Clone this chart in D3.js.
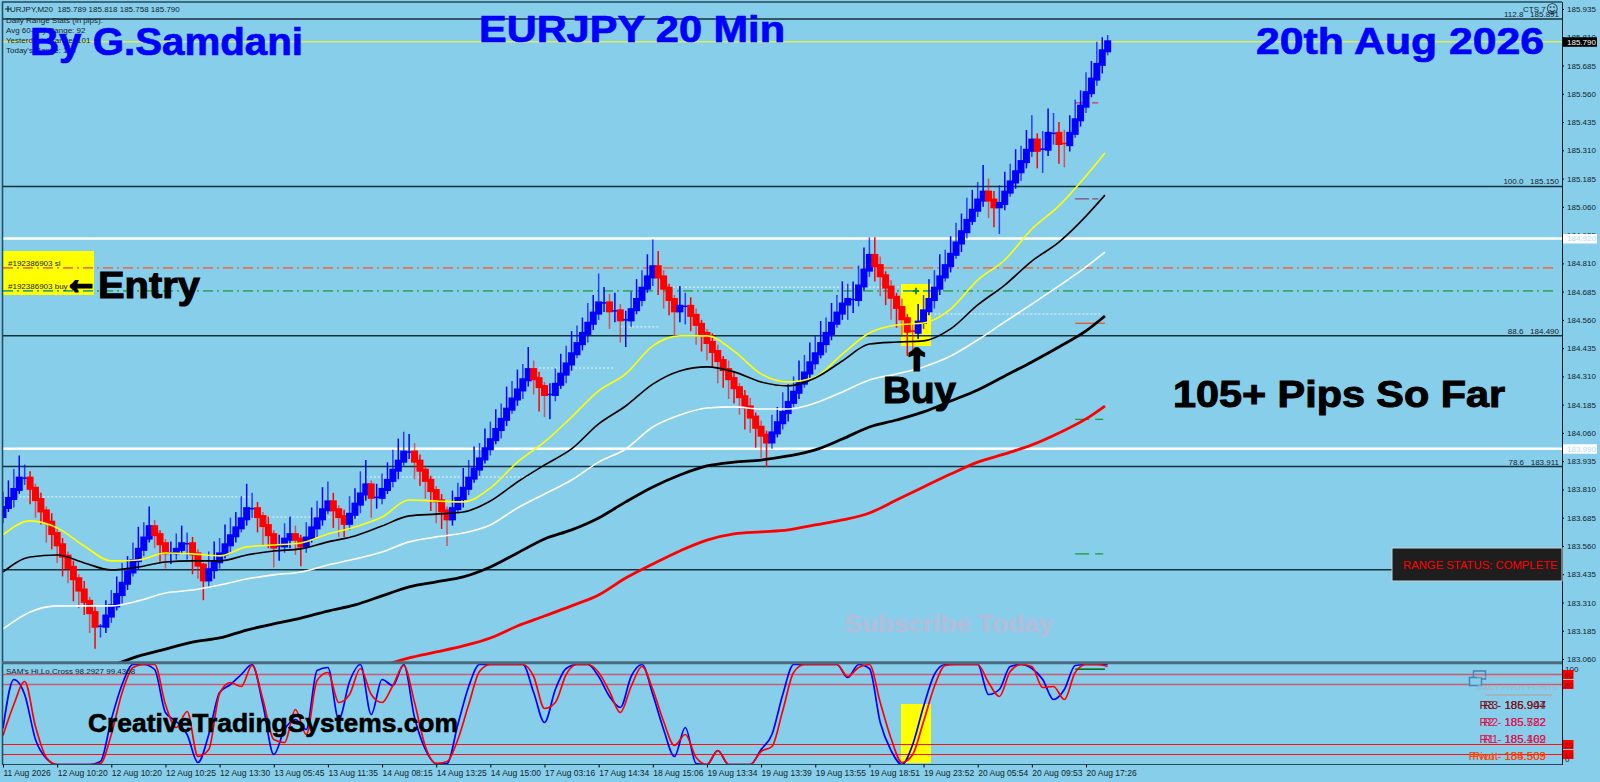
<!DOCTYPE html>
<html>
<head>
<meta charset="utf-8">
<title>EURJPY 20 Min</title>
<script src="https://cdn.jsdelivr.net/npm/d3@7"></script>
<style>
  html, body { margin: 0; padding: 0; background: #87ceeb; overflow: hidden; }
  svg { display: block; font-family: "Liberation Sans", Arial, sans-serif; }
  .small { font-size: 8px; fill: #14242c; }
  .big { font-weight: bold; }
</style>
</head>
<body>
<div id="chart-container"></div>
<script>
// closes, one per bar
const closes = [
  183.730,183.770,183.810,183.860,183.860,183.815,183.765,183.715,183.665,183.615,
  183.565,183.515,183.465,183.415,183.365,183.315,183.265,183.205,183.205,183.250,
  183.295,183.345,183.395,183.445,183.495,183.545,183.595,183.645,183.610,183.570,
  183.530,183.530,183.545,183.570,183.570,183.525,183.475,183.410,183.455,183.490,
  183.525,183.565,183.605,183.640,183.680,183.725,183.725,183.690,183.650,183.610,
  183.555,183.560,183.590,183.610,183.590,183.560,183.595,183.640,183.680,183.720,
  183.755,183.720,183.690,183.660,183.700,183.745,183.790,183.830,183.775,183.775,
  183.810,183.850,183.895,183.935,183.975,183.975,183.935,183.895,183.850,183.805,
  183.760,183.715,183.680,183.725,183.770,183.815,183.860,183.900,183.945,183.990,
  184.030,184.075,184.120,184.165,184.210,184.250,184.295,184.340,184.300,184.265,
  184.230,184.230,184.275,184.320,184.365,184.410,184.455,184.500,184.545,184.590,
  184.635,184.635,184.600,184.600,184.560,184.560,184.605,184.650,184.700,184.750,
  184.795,184.750,184.700,184.650,184.600,184.620,184.620,184.580,184.540,184.500,
  184.460,184.420,184.380,184.340,184.300,184.260,184.220,184.175,184.130,184.085,
  184.050,184.020,184.060,184.105,184.150,184.195,184.240,184.280,184.325,184.370,
  184.410,184.455,184.500,184.545,184.590,184.630,184.650,184.650,184.710,184.780,
  184.845,184.800,184.755,184.705,184.660,184.615,184.565,184.510,184.505,184.550,
  184.600,184.650,184.700,184.750,184.800,184.850,184.900,184.950,185.000,185.045,
  185.090,185.125,185.090,185.060,185.075,185.125,185.170,185.215,185.260,185.310,
  185.355,185.310,185.315,185.385,185.385,185.340,185.335,185.385,185.445,185.505,
  185.565,185.625,185.690,185.750,185.790
];

// wick lengths above / below the body, in 0.01 of price
const wickUp = [
  7,8,9,10,6,3,2,3,2,4, 2,3,2,3,2,4,2,3,1,7, 7,8,9,7,8,10,7,9,3,2,
  2,5,7,8,5,3,2,1,8,9, 7,9,8,7,10,11,7,3,2,4, 2,5,7,8,4,2,7,9,8,10,
  9,4,2,3,8,7,10,11,2,6, 7,8,9,10,9,8,4,3,2,2, 2,3,2,8,7,9,8,10,7,9,
  8,9,7,10,8,9,7,10,4,3, 2,5,7,9,8,10,8,7,9,8, 13,7,4,8,3,4,8,9,8,10,
  12,7,3,2,2,9,6,4,3,2, 2,4,3,2,4,3,2,3,4,2, 3,2,8,7,9,8,7,10,8,9,
  8,10,7,9,8,10,7,8,9,10, 8,8,4,2,3,2,4,2,3,8, 7,9,8,10,7,8,9,8,10,9,
  8,12,6,4,8,9,8,10,7,9, 11,3,8,11,9,5,6,8,9,7, 9,8,10,6,3
];
const wickDown = [
  3,2,4,2,3,7,8,6,9,7, 8,9,7,10,8,6,9,10,5,3, 3,2,4,3,2,4,3,2,6,8,
  7,5,3,2,7,9,6,9,3,4, 3,2,4,3,2,3,4,7,9,6, 9,6,3,4,7,9,3,2,4,3,
  2,8,9,6,3,2,4,3,9,5, 3,2,3,4,2,3,8,7,8,9, 10,8,12,3,2,4,3,2,3,2,
  3,2,4,3,2,3,4,3,7,11, 10,11,3,2,4,3,2,3,4,3, 3,4,8,5,10,12,3,2,3,2,
  4,8,9,7,11,5,8,7,9,8, 8,7,10,8,9,7,8,10,7,9, 10,11,3,2,3,4,2,3,2,3,
  3,2,4,3,2,3,7,6,3,2, 3,7,9,8,10,9,8,11,10,3, 3,2,4,3,2,3,2,4,3,2,
  3,3,8,9,12,3,2,3,4,3, 3,8,10,3,5,9,10,3,2,3, 3,2,3,4,2
];

// moving averages, sampled every 5 bars and at the last bar
const maBars = [0,5,10,15,20,25,30,35,40,45,50,55,60,65,70,75,80,85,90,95,100,105,110,115,120,125,130,135,140,145,150,155,160,165,170,175,180,185,190,195,200,203.5];
const maYellow = [183.609,183.671,183.640,183.560,183.494,183.498,183.529,183.525,183.516,183.556,183.564,183.573,183.613,183.644,183.688,183.763,183.759,183.755,183.816,183.931,184.020,184.130,184.246,184.321,184.445,184.489,184.489,184.422,184.321,184.285,184.307,184.409,184.502,184.537,184.546,184.608,184.736,184.825,184.962,185.064,185.196,185.298];
const maBlackThin = [183.445,183.511,183.520,183.485,183.454,183.467,183.489,183.494,183.494,183.520,183.538,183.547,183.578,183.604,183.648,183.693,183.701,183.710,183.759,183.843,183.918,183.989,184.100,184.179,184.276,184.334,184.352,184.330,184.285,184.268,184.303,184.378,184.453,184.462,184.467,184.520,184.626,184.714,184.820,184.904,185.019,185.112];
const maWhite = [183.193,183.268,183.295,183.295,183.295,183.317,183.352,183.365,183.387,183.414,183.432,183.445,183.476,183.502,183.533,183.578,183.600,183.617,183.653,183.728,183.790,183.852,183.931,183.989,184.086,184.139,184.170,184.175,184.166,184.166,184.192,184.241,184.294,184.321,184.352,184.400,184.471,184.551,184.630,184.710,184.794,184.860];
const maBlackThick = [null,null,null,null,183.029,183.073,183.104,183.135,183.153,183.188,183.215,183.241,183.272,183.299,183.339,183.379,183.401,183.423,183.467,183.529,183.591,183.631,183.684,183.755,183.821,183.874,183.914,183.931,183.940,183.958,183.985,184.033,184.086,184.117,184.153,184.201,184.250,184.312,184.374,184.440,184.511,184.577];
const maRed = [null,null,null,null,null,null,null,null,null,null,null,null,null,null,183.029,183.065,183.091,183.118,183.153,183.206,183.250,183.295,183.343,183.418,183.480,183.538,183.586,183.613,183.622,183.631,183.653,183.675,183.706,183.763,183.821,183.878,183.931,183.967,184.007,184.060,184.122,184.179];

// stochastic cross indicator, sampled every 2 bars
const stochBlue = [
  36,85,70,25,6,0,0,0,0,3, 45,80,100,100,95,52,43,30,2,30,
  72,80,90,100,60,10,35,45,35,94, 97,45,83,100,50,85,79,100,47,15,
  1,1,40,78,100,100, 100,100,100,72,42,75,96,100,100,88,
  68,57,88,100,70,35,8,37,1,0, 14,0,0,0,15,30,70,100,100,100,
  100,100,87,100,96,42,14,0,20,58, 90,100,100,100,100,70,75,98,100,96,
  85,65,75,99,100,100,100
];
const stochRed = [
  29,60,83,38,7,0,0,0,0,1, 30,72,97,100,100,60,37,53,8,15,
  71,82,78,99,65,25,22,55,30,84, 92,62,70,96,70,62,79,99,62,18,
  1,3,25,60,93,100, 100,100,100,88,56,62,90,100,100,92,
  73,52,78,98,75,43,19,30,7,0, 14,0,0,0,13,18,54,92,100,100,
  100,100,88,97,100,62,26,2,10,43, 78,99,100,100,100,82,68,93,100,98,
  77,78,65,92,100,100,98
];

const priceTicks = [185.935,185.81,185.685,185.56,185.435,185.31,185.185,185.06,184.935,184.81,184.685,184.56,184.435,184.31,184.185,184.06,183.935,183.81,183.685,183.56,183.435,183.31,183.185,183.06];
const timeLabels = ["11 Aug 2026","12 Aug 10:20","12 Aug 10:20","12 Aug 10:25","12 Aug 13:30","13 Aug 05:45","13 Aug 11:35","14 Aug 08:15","14 Aug 13:25","14 Aug 15:00","17 Aug 03:16","17 Aug 14:34","18 Aug 15:06","19 Aug 13:34","19 Aug 13:39","19 Aug 13:55","19 Aug 18:51","19 Aug 23:52","20 Aug 05:54","20 Aug 09:53","20 Aug 17:26"];

// fib levels and their labels
const fibPrices = [185.891,185.150,184.490,183.911,183.455];
const fibLabels = ["112.8   185.891","100.0   185.150","88.6   184.490","78.6   183.911",""];
const whitePrices = [184.920,183.990];
const stopPrice = 184.790;
const entryPrice = 184.688;
const lastPrice = 185.790;

// dotted white levels: first bar, last bar, price
const dotStart = [3,49,67,99,114,123,172];
const dotEnd = [46,66,97,113,121,166,203];
const dotPrice = [183.777,183.688,183.865,184.347,184.529,184.705,184.586];

// short pivot dashes at the last day
const pivotPrices = [185.520,185.095,184.545,184.120,183.525,183.015];
const pivotColors = ["#c8385a","#80506a","#e8501e","#1f9a2e","#1f9a2e","#0e6e1e"];
const pivotDash = ["14,3,6","14,3,6",null,"14,6,8","14,6,8",null];

const stochLevels = [90,80,20,10];
const pivotRows = [["R3  186.904","R3 - 185.947","#7c1018"],["R2  185.722","R2 - 185.582","#dc1450"],["R1  185.402","R1 - 185.169","#dc1450"],["Pivot  185.509","Pivot - 184.503","#ff4500"]];

const width = 1600;
const height = 782;

const svg = d3.select("#chart-container")
  .append("svg")
  .attr("width", width)
  .attr("height", height);

svg.append("rect").attr("width", width).attr("height", height).attr("fill", "#87ceeb");

const x = d3.scaleLinear().domain([0, 10]).range([3, 57.15]);
const y = d3.scaleLinear().domain([185.935, 183.06]).range([9, 659]);
const yStoch = d3.scaleLinear().domain([0, 100]).range([764.5, 664.5]);

const defs = svg.append("defs");
defs.append("clipPath").attr("id", "price-clip").append("rect")
  .attr("x", 3).attr("y", 3).attr("width", 1559).attr("height", 659);
defs.append("clipPath").attr("id", "stoch-clip").append("rect")
  .attr("x", 3).attr("y", 663).attr("width", 1559).attr("height", 102);

const chartRight = 1562;
const chartLeft = 3;

// yellow boxes behind everything
const notes = svg.append("g");
notes.append("rect").attr("x", 3).attr("y", 251).attr("width", 91).attr("height", 44).attr("fill", "#ffff00");
notes.append("rect").attr("x", 901).attr("y", 284).attr("width", 30).attr("height", 62).attr("fill", "#ffff00");
notes.append("rect").attr("x", 901).attr("y", 704).attr("width", 30).attr("height", 59).attr("fill", "#ffff00");

// horizontal levels
const levels = svg.append("g");

levels.selectAll(".fib").data(fibPrices).join("line")
  .attr("x1", chartLeft).attr("x2", chartRight)
  .attr("y1", d => y(d)).attr("y2", d => y(d))
  .attr("stroke", "#16303c").attr("stroke-width", 1.5);

levels.selectAll(".white").data(whitePrices).join("line")
  .attr("x1", chartLeft).attr("x2", chartRight)
  .attr("y1", d => y(d)).attr("y2", d => y(d))
  .attr("stroke", "#ffffff").attr("stroke-width", 2.6);

levels.append("line").attr("x1", chartLeft).attr("x2", chartRight)
  .attr("y1", y(lastPrice)).attr("y2", y(lastPrice))
  .attr("stroke", "#dcec5a").attr("stroke-width", 1.4);

levels.append("line").attr("x1", chartLeft).attr("x2", 1557)
  .attr("y1", y(stopPrice)).attr("y2", y(stopPrice))
  .attr("stroke", "#e8744e").attr("stroke-width", 1.7).attr("stroke-dasharray", "10,4,2,4");
levels.append("line").attr("x1", chartLeft).attr("x2", 1557)
  .attr("y1", y(entryPrice)).attr("y2", y(entryPrice))
  .attr("stroke", "#3aa86a").attr("stroke-width", 1.7).attr("stroke-dasharray", "10,4,2,4");

levels.selectAll(".dot").data(dotPrice).join("line")
  .attr("x1", (d, i) => x(dotStart[i])).attr("x2", (d, i) => x(dotEnd[i]))
  .attr("y1", d => y(d)).attr("y2", d => y(d))
  .attr("stroke", "#eef8ff").attr("stroke-width", 1).attr("stroke-dasharray", "2,2");

levels.selectAll(".pivot").data(pivotPrices).join("line")
  .attr("x1", x(198)).attr("x2", 1105)
  .attr("y1", d => y(d)).attr("y2", d => y(d))
  .attr("stroke", (d, i) => pivotColors[i])
  .attr("stroke-width", (d, i) => i === 5 ? 1.6 : 1.2)
  .attr("stroke-dasharray", (d, i) => pivotDash[i]);

// candles: wicks first so the bodies stay solid
const candles = svg.append("g").attr("clip-path", "url(#price-clip)");

closes.forEach((c, i) => {
  const open = i === 0 ? c - 0.04 : closes[i - 1];
  const up = c >= open;
  candles.append("line")
    .attr("x1", x(i)).attr("x2", x(i))
    .attr("y1", y(Math.max(open, c) + wickUp[i] / 100))
    .attr("y2", y(Math.min(open, c) - wickDown[i] / 100))
    .attr("stroke", up ? "#0000ff" : "#ff0000")
    .attr("stroke-width", 1.5)
    .attr("opacity", i % 2 ? 1 : (up ? 0.7 : 0.6));
});

closes.forEach((c, i) => {
  const open = i === 0 ? c - 0.04 : closes[i - 1];
  const up = c >= open;
  const top = y(Math.max(open, c));
  const bottom = y(Math.min(open, c));
  const flat = bottom - top < 1.5;
  candles.append("rect")
    .attr("x", x(i) - (flat ? 2.5 : 3.5))
    .attr("width", flat ? 5 : 7)
    .attr("y", flat ? top - 0.75 : top - 1.5)
    .attr("height", flat ? 1.5 : bottom - top + 3)
    .attr("fill", up ? "#0000ff" : "#ff0000");
});

// moving averages
const maLine = d3.line()
  .defined(d => d !== null)
  .x((d, i) => x(maBars[i]))
  .y(d => y(d))
  .curve(d3.curveMonotoneX);

const maGroup = svg.append("g").attr("clip-path", "url(#price-clip)").attr("fill", "none");
maGroup.append("path").attr("d", maLine(maWhite)).attr("stroke", "#ffffff").attr("stroke-width", 1.6);
maGroup.append("path").attr("d", maLine(maYellow)).attr("stroke", "#ffff00").attr("stroke-width", 1.6);
maGroup.append("path").attr("d", maLine(maBlackThin)).attr("stroke", "#000000").attr("stroke-width", 1.6);
maGroup.append("path").attr("d", maLine(maBlackThick)).attr("stroke", "#000000").attr("stroke-width", 2.8);
maGroup.append("path").attr("d", maLine(maRed)).attr("stroke", "#ff0000").attr("stroke-width", 2.8);

// stochastic pane
const stochGroup = svg.append("g").attr("clip-path", "url(#stoch-clip)");

stochGroup.selectAll(".level").data(stochLevels).join("line")
  .attr("x1", chartLeft).attr("x2", chartRight)
  .attr("y1", d => yStoch(d)).attr("y2", d => yStoch(d))
  .attr("stroke", d => d > 50 ? "#d05a70" : "#ff1010")
  .attr("stroke-width", d => d > 50 ? 1.6 : 1.2);

const stochLine = d3.line()
  .x((d, i) => x(i * 2))
  .y(d => yStoch(d))
  .curve(d3.curveMonotoneX);

stochGroup.append("path").attr("d", stochLine(stochBlue)).attr("fill", "none").attr("stroke", "#0000ff").attr("stroke-width", 1.7);
stochGroup.append("path").attr("d", stochLine(stochRed)).attr("fill", "none").attr("stroke", "#ff0000").attr("stroke-width", 1.7);

// frame
const frame = svg.append("g").attr("stroke", "#234a5c").attr("fill", "none");
frame.append("line").attr("x1", 2.5).attr("x2", 2.5).attr("y1", 2).attr("y2", 765).attr("stroke-width", 1.5);
frame.append("line").attr("x1", 2).attr("x2", chartRight).attr("y1", 2).attr("y2", 2).attr("stroke-width", 1.5);
frame.append("line").attr("x1", 2).attr("x2", chartRight).attr("y1", 662.8).attr("y2", 662.8).attr("stroke", "#4a6a7e").attr("stroke-width", 3);
frame.append("line").attr("x1", 2).attr("x2", chartRight).attr("y1", 764.5).attr("y2", 764.5).attr("stroke-width", 1.2);

// right price axis
const priceAxis = svg.append("g")
  .attr("transform", `translate(${chartRight},0)`)
  .call(d3.axisRight(y).tickValues(priceTicks).tickFormat(d3.format(".3f")).tickSize(2).tickPadding(3));
priceAxis.select(".domain").attr("stroke", "#0c1c24").attr("d", "M0.5,2V765");
priceAxis.selectAll("text").attr("font-size", 8).attr("font-family", "Liberation Sans").attr("fill", "#14242c");

// time axis
const timeAxis = svg.append("g")
  .attr("transform", "translate(0,764.5)")
  .call(d3.axisBottom(x).tickValues(timeLabels.map((d, i) => i * 10)).tickFormat((d, i) => timeLabels[i]).tickSize(3).tickPadding(2));
timeAxis.select(".domain").remove();
timeAxis.selectAll("text").attr("font-size", 8.5).attr("font-family", "Liberation Sans").attr("fill", "#14242c").attr("text-anchor", "start");

// price boxes on the axis
function priceBox(price, fill, textColor) {
  const g = svg.append("g");
  g.append("rect").attr("x", 1563).attr("y", y(price) - 4.5).attr("width", 34).attr("height", 9.5).attr("fill", fill);
  g.append("text").attr("x", 1567).attr("y", y(price) + 3).attr("font-size", 8).attr("fill", textColor).text(price.toFixed(3));
}
priceBox(lastPrice, "#000000", "#ffffff");
whitePrices.forEach(p => priceBox(p, "#ffffff", "#b4dcf0"));

// stochastic axis
svg.append("text").attr("class", "small").attr("x", 1565).attr("y", 672).text("100");
svg.append("text").attr("class", "small").attr("x", 1565).attr("y", 762).text("0");
stochLevels.forEach(l => {
  svg.append("rect").attr("x", 1563).attr("y", yStoch(l) - 4.5).attr("width", 10.5).attr("height", 9).attr("fill", "#ff0000");
  svg.append("text").attr("x", 1564).attr("y", yStoch(l) + 3).attr("font-size", 8).attr("fill", "#8a1010").text(l);
});

// fib labels
fibLabels.forEach((t, i) => {
  svg.append("text").attr("class", "small").attr("x", 1559).attr("y", y(fibPrices[i]) - 2)
    .attr("text-anchor", "end").style("white-space", "pre").text(t);
});

// top left readout
svg.append("path").attr("d", "M5,9h6M8,6v6").attr("stroke", "#14242c").attr("stroke-width", 1.2);
svg.append("text").attr("class", "small").attr("x", 10).attr("y", 12).style("white-space", "pre").text("URJPY,M20  185.789 185.818 185.758 185.790");
["Daily Range Stats (in pips):", "Avg 60-day Range: 92", "Yesterday's Range: 101", "Today's Range: 114"].forEach((t, i) => {
  svg.append("text").attr("class", "small").attr("x", 6).attr("y", 23 + i * 10).text(t);
});
svg.append("text").attr("class", "small").attr("x", 1523).attr("y", 12).text("CTS 7");
svg.append("text").attr("class", "small").attr("x", 1546).attr("y", 13).attr("font-family", "DejaVu Sans").style("font-size", "12px").text("☺");
svg.append("text").attr("class", "small").attr("x", 6).attr("y", 674).text("SAM's Hi,Lo,Cross 98.2927 99.4368");

// trade tags
svg.append("text").attr("class", "small").attr("x", 8).attr("y", 266).text("#192386903 sl");
svg.append("text").attr("class", "small").attr("x", 8).attr("y", 289).text("#192386903 buy");
svg.append("path").attr("d", d3.symbol().type(d3.symbolCross).size(22)()).attr("transform", "translate(916,291)").attr("fill", "#148a2a");

// big headings, stretched to the width they have in the picture
function bigText(txt, xPos, yPos, size, color, length, outline) {
  return svg.append("text").attr("class", "big").attr("x", xPos).attr("y", yPos)
    .attr("font-size", size).attr("fill", color)
    .attr("stroke", color).attr("stroke-width", outline === undefined ? 0.7 : outline)
    .attr("textLength", length).attr("lengthAdjust", "spacingAndGlyphs").text(txt);
}
bigText("By G.Samdani", 30, 55, 38, "#0000ff", 273);
bigText("EURJPY 20 Min", 479, 42, 36, "#0000ff", 306);
bigText("20th Aug 2026", 1256, 54, 37, "#0000ff", 288);
bigText("←", 64, 293, 40, "#000000", 34, 3);
bigText("Entry", 98, 298, 36, "#000000", 102, 1);
bigText("↑", 904, 369, 36, "#000000", 26, 3);
bigText("Buy", 883, 403, 36, "#000000", 73, 1);
bigText("105+ Pips So Far", 1173, 407, 36, "#000000", 332, 1);
bigText("Subscribe Today", 844, 632, 24, "#b0bedc", 209, 0.5);
bigText("CreativeTradingSystems.com", 88, 732, 25, "#000000", 370, 0.6);

// range status panel
svg.append("rect").attr("x", 1392).attr("y", 548).attr("width", 170).attr("height", 33)
  .attr("fill", "#1e1e1e").attr("stroke", "#c8d4dc").attr("stroke-width", 1);
svg.append("text").attr("x", 1403).attr("y", 569).attr("font-size", 11.3).attr("fill", "#ff0000").text("RANGE STATUS: COMPLETE");

// pivot panel inside the lower pane
const panel = svg.append("g");
panel.append("rect").attr("x", 1473.5).attr("y", 671).attr("width", 12).attr("height", 8).attr("fill", "none").attr("stroke", "#4682b4").attr("stroke-width", 1.5);
panel.append("rect").attr("x", 1469.5).attr("y", 677.5).attr("width", 12).attr("height", 8).attr("fill", "#87ceeb").attr("stroke", "#4682b4").attr("stroke-width", 1.5);
panel.append("line").attr("x1", 1477).attr("x2", 1552).attr("y1", 677).attr("y2", 677).attr("stroke", "#b0b4bc").attr("stroke-width", 1);
panel.append("line").attr("x1", 1485).attr("x2", 1552).attr("y1", 695).attr("y2", 695).attr("stroke", "#b0a8a8").attr("stroke-width", 1.4);
panel.append("text").attr("x", 1477).attr("y", 690).attr("font-size", 8).attr("fill", "#a8b0bc").text("DAILY PIVOT POINTS");
pivotRows.forEach((r, i) => {
  const rowY = 709 + i * 17;
  panel.append("text").attr("x", 1546).attr("y", rowY).attr("text-anchor", "end").attr("font-size", 11.5).attr("fill", r[2]).style("white-space", "pre").text(r[0]);
  panel.append("text").attr("x", 1546).attr("y", rowY).attr("text-anchor", "end").attr("font-size", 11.5).attr("fill", r[2]).style("white-space", "pre").text(r[1]);
});
</script>
</body>
</html>
